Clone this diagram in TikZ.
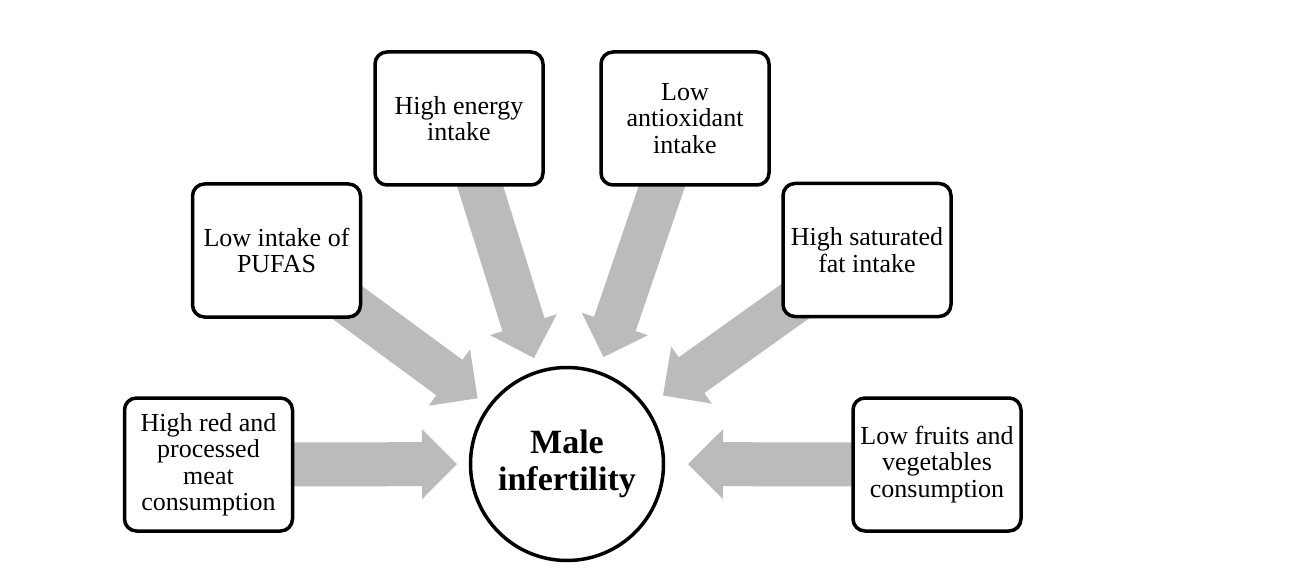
\documentclass[tikz,border=0pt]{standalone}
\usepackage{fontspec}
\setmainfont{Liberation Serif}
\usetikzlibrary{calc}
\pgfdeclarelayer{background}
\pgfsetlayers{background,main}
\definecolor{arrowgray}{RGB}{187,187,187}
% block arrow from a box centre towards the circle centre; #2 = gap of tip from circle centre
\newcommand\blockarrow[2]{%
  \coordinate (T) at ($(c.center)!#2pt!(#1.center)$);
  \coordinate (H) at ($(c.center)!#2pt+35pt!(#1.center)$);
  \fill[arrowgray] ($(#1.center)!22pt!-90:(c.center)$)
    -- ($(H)!22pt!90:(#1.center)$) -- ($(H)!35pt!90:(#1.center)$)
    -- (T)
    -- ($(H)!35pt!-90:(#1.center)$) -- ($(H)!22pt!-90:(#1.center)$)
    -- ($(#1.center)!22pt!90:(c.center)$) -- cycle;
}
\begin{document}
\begin{tikzpicture}[x=1pt,y=-1pt,
  factor/.style={draw=black, line width=3.5pt, rounded corners=12pt, fill=white,
    minimum width=168pt, minimum height=133pt, align=center, inner sep=3pt,
    font=\fontsize{26}{26.5}\selectfont},
  centre/.style={draw=black, line width=3.5pt, circle, fill=white,
    minimum size=193pt, align=center, inner sep=0pt,
    font=\fontsize{34}{37}\selectfont\bfseries}]
\useasboundingbox (0,0) rectangle (1299,580);

\node[centre] (c) at (567,464) {Male\\infertility};

\node[factor] (b1) at (208.5,464.5) {High red and\\processed\\meat\\consumption};
\node[factor] (b2) at (276.5,250.5) {Low intake of\\PUFAS};
\node[factor] (b3) at (459,118.5) {High energy\\intake};
\node[factor] (b4) at (685,118.5) {Low\\antioxidant\\intake};
\node[factor] (b5) at (867,250) {High saturated\\fat intake};
\node[factor] (b6) at (937,464.5) {Low fruits and\\vegetables\\consumption};

\begin{pgfonlayer}{background}
  \blockarrow{b1}{110}
  \blockarrow{b2}{111}
  \blockarrow{b3}{111}
  \blockarrow{b4}{113}
  \blockarrow{b5}{118}
  \blockarrow{b6}{121}
\end{pgfonlayer}
\end{tikzpicture}
\end{document}
